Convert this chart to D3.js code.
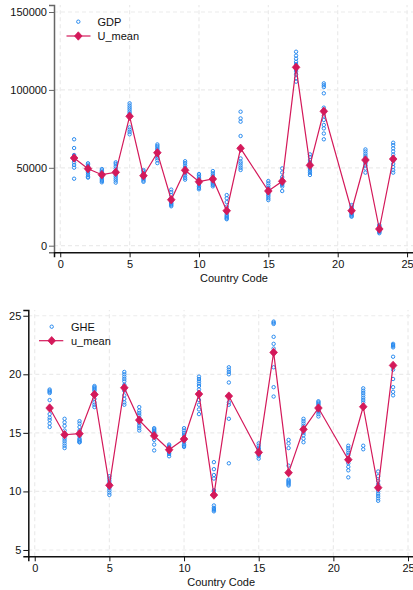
<!DOCTYPE html>
<html><head><meta charset="utf-8">
<script src="https://cdn.jsdelivr.net/npm/d3@7"></script>
<style>
html,body{margin:0;padding:0;background:#fff;}
svg text{font-family:"Liberation Sans",Arial,sans-serif;font-size:11px;fill:#111;}
</style></head>
<body><svg id="c" width="413" height="590"></svg>
<script>
// ---- data ----
const countryCodes = [1,2,3,4,5,6,7,8,9,10,11,12,13,15,16,17,18,19,21,22,23,24];
const gdpValues = [
  [68300,62700,58200,57000,56000,55000,53500,51800,50100,43000],
  [52900,52000,51000,50200,49500,48800,47800,46800,45500,44300,43700],
  [49200,48300,47500,46500,45800,45000,44200,43300,42300,41500,40700],
  [53500,52500,51000,49500,48000,46700,45500,44300,43000,41800,40500],
  [91400,90000,88700,87500,86200,85000,83800,76000,74500,73000,71500],
  [48600,47800,46800,45900,45000,44200,43500,42700,41800,41000],
  [65000,64000,63000,62000,61000,60000,58800,57500,56200,54800,53000],
  [36000,34500,32500,30500,29500,28800,28000,27300,26700,26000,25300],
  [54200,53000,51500,50300,49200,48200,47200,46200,45000,43500,42400],
  [46000,45000,44000,43000,42000,41000,40000,39000,38000,37000,36200],
  [47900,46500,45200,44000,43000,42200,41400,40600,39800,39000,38100],
  [32500,30500,28000,25000,22500,21000,19800,18900,18200,17500,17000],
  [86000,81700,79600,70400,56000,54000,52800,51400,50000,48600],
  [41500,40000,38500,37000,35800,34800,33800,32800,31800,30500,29300],
  [49600,47000,44000,42500,41500,40500,39800,39000,38000,35100],
  [124500,122000,120000,118000,116500,115000,113500,112000,110000,107500,105300],
  [58600,57000,55000,53500,52300,51300,50300,49300,48000,46800,45400],
  [104200,103000,101800,97800,88600,87000,83500,80700,77500,75300,72000,68300],
  [26100,25000,24000,23200,22500,21800,21200,20500,19800,19100,18600],
  [61800,60500,59000,57500,56200,55000,54000,52800,51500,49500,46900],
  [13300,12500,11800,11200,10700,10200,9700,9200,8700,8000],
  [66100,64500,62500,60500,58500,56500,54500,52500,50500,48500,46900]
];
const gdpMean = [56290,49420,45570,47100,83050,44930,59690,29520,48390,41080,42810,22460,
                 62510,35110,41330,114500,51600,86260,22460,55000,10720,55640];
const gheValues = [
  [18.7,18.6,18.5,18.4,17.8,17.2,16.6,16.3,16.1,15.8,15.5],
  [16.2,15.9,15.6,15.2,14.9,14.7,14.5,14.3,14.1,13.9,13.7],
  [16.0,15.8,15.5,15.2,14.9,14.7,14.5,14.4,14.3,14.2,14.2],
  [19.0,18.9,18.8,18.7,18.6,18.4,18.2,17.9,17.6,17.4,17.2],
  [11.3,11.1,10.9,10.7,10.5,10.4,10.3,10.1,9.9,9.7],
  [20.2,20.0,19.8,19.6,19.4,19.1,18.6,18.2,17.9,17.6,17.4],
  [17.2,16.9,16.7,16.5,16.3,16.0,15.8,15.6,15.4,15.2],
  [15.4,15.3,15.2,15.1,15.0,14.9,14.8,14.4,14.0,13.5],
  [14.0,13.9,13.8,13.7,13.6,13.5,13.4,13.3,13.2,13.0],
  [15.4,15.2,15.0,14.8,14.6,14.4,14.2,14.0,13.9,13.8],
  [19.8,19.6,19.4,19.2,19.0,18.7,18.3,17.8,17.4,17.0,16.6],
  [12.5,11.9,11.4,11.1,10.1,10.0,8.8,8.6,8.5,8.4,8.3],
  [20.6,20.4,20.2,20.0,19.3,17.6,17.4,16.2,12.4],
  [14.1,13.9,13.7,13.6,13.4,13.3,13.2,13.1,13.0,12.8],
  [24.5,24.4,24.3,23.2,22.6,22.2,21.9,20.6,18.9,18.1],
  [14.4,14.1,13.7,12.2,11.0,10.9,10.8,10.7,10.6,10.5],
  [16.2,16.0,15.8,15.6,15.4,15.2,15.0,14.8,14.5,14.2],
  [17.7,17.6,17.5,17.4,17.2,17.0,16.9,16.8,16.6,16.4],
  [13.9,13.7,13.5,13.3,13.1,12.8,12.6,12.4,12.1,11.8,11.2],
  [18.8,18.6,18.4,18.2,18.0,17.8,17.6,13.9,13.6],
  [11.7,11.3,10.9,10.6,10.4,10.2,10.0,9.8,9.6,9.4,9.2],
  [22.6,22.5,22.4,22.3,21.5,20.4,19.6,18.9,18.5,18.2]
];
const gheMean = [17.12,14.84,14.93,18.28,10.52,18.85,16.09,14.75,13.56,14.47,18.31,9.69,
                 18.14,13.33,21.87,11.60,15.30,17.12,12.71,17.23,10.32,20.76];
const xTicks = [0,5,10,15,20,25];
const gdpTicks = [0,50000,100000,150000];
const gheTicks = [5,10,15,20,25];
const xTitle = "Country Code";

const BLUE = "#2b8cf0", RED = "#d4195a", GRID = "#ebebeb";
const svg = d3.select("#c");

function panel(cfg){
  const g = svg.append("g");
  const x = d3.scaleLinear().domain(cfg.xdom).range(cfg.xr);
  const y = d3.scaleLinear().domain(cfg.ydom).range(cfg.yr);
  // grid
  g.selectAll(".vg").data(xTicks).enter().append("line")
    .attr("x1",d=>x(d)).attr("x2",d=>x(d)).attr("y1",cfg.yr[0]).attr("y2",cfg.yr[1])
    .attr("stroke",GRID).attr("stroke-width",1.2).attr("stroke-dasharray","4,3");
  g.selectAll(".hg").data(cfg.yticks).enter().append("line")
    .attr("x1",cfg.xr[0]).attr("x2",cfg.xr[1]).attr("y1",d=>y(d)).attr("y2",d=>y(d))
    .attr("stroke",GRID).attr("stroke-width",1.2).attr("stroke-dasharray","4,3");
  // points
  const pts = [];
  countryCodes.forEach((c,i)=>cfg.vals[i].forEach(v=>pts.push([c,v])));
  g.selectAll(".pt").data(pts).enter().append("circle")
    .attr("cx",d=>x(d[0])).attr("cy",d=>y(d[1])).attr("r",1.7)
    .attr("fill","none").attr("stroke",BLUE).attr("stroke-width",1);
  // mean line
  const md = countryCodes.map((c,i)=>[c,cfg.mean[i]]);
  g.append("path").datum(md)
    .attr("d",d3.line().x(d=>x(d[0])).y(d=>y(d[1])))
    .attr("fill","none").attr("stroke",RED).attr("stroke-width",1.2);
  const dia = "M0,-4.2L3.8,0L0,4.2L-3.8,0Z";
  g.selectAll(".mk").data(md).enter().append("path")
    .attr("d",dia).attr("transform",d=>`translate(${x(d[0])},${y(d[1])})`)
    .attr("fill",RED).attr("stroke",RED).attr("stroke-width",0.8);
  // axes
  const ya = g.append("g").attr("transform",`translate(${cfg.xr[0]},0)`)
    .call(d3.axisLeft(y).tickValues(cfg.yticks).tickSize(5).tickPadding(2).tickFormat(d3.format("d")));
  ya.select(".domain").attr("stroke",cfg.yaxisColor).attr("stroke-width",1.5);
  ya.selectAll(".tick line").attr("stroke",cfg.yaxisColor);
  ya.selectAll("text").style("font-family","Liberation Sans, Arial, sans-serif").style("font-size","11px").attr("fill","#111");
  const xa = g.append("g").attr("transform",`translate(0,${cfg.yr[0]})`)
    .call(d3.axisBottom(x).tickValues(xTicks).tickSize(5).tickPadding(3).tickFormat(d3.format("d")));
  xa.select(".domain").attr("stroke","#111").attr("stroke-width",1.5);
  xa.selectAll(".tick line").attr("stroke","#111");
  xa.selectAll("text").style("font-family","Liberation Sans, Arial, sans-serif").style("font-size","11px").attr("fill","#111");
  g.append("text").attr("x",(cfg.xr[0]+cfg.xr[1])/2).attr("y",cfg.titleY)
    .attr("text-anchor","middle").text(xTitle);
  // legend
  const L = cfg.leg;
  g.append("circle").attr("cx",L.mx).attr("cy",L.y1).attr("r",1.7)
    .attr("fill","none").attr("stroke",BLUE).attr("stroke-width",1);
  g.append("text").attr("x",L.tx).attr("y",L.y1+4).text(cfg.names[0]);
  g.append("line").attr("x1",L.l1).attr("x2",L.l2).attr("y1",L.y2).attr("y2",L.y2)
    .attr("stroke",RED).attr("stroke-width",1.2);
  g.append("path").attr("d",dia).attr("transform",`translate(${L.mx},${L.y2})`)
    .attr("fill",RED).attr("stroke",RED).attr("stroke-width",0.8);
  g.append("text").attr("x",L.tx).attr("y",L.y2+4).text(cfg.names[1]);
}

panel({xdom:[-0.45,25.5], xr:[54,414], ydom:[-4236,154493], yr:[252.3,5],
  yticks:gdpTicks, vals:gdpValues, mean:gdpMean, yaxisColor:"#666", titleY:281.5,
  names:["GDP","U_mean"], leg:{mx:78.3,y1:21.7,y2:36,tx:97.5,l1:66.5,l2:90.5}});
panel({xdom:[-0.43,25.4], xr:[28.3,414], ydom:[4.46,25.49], yr:[556.3,310],
  yticks:gheTicks, vals:gheValues, mean:gheMean, yaxisColor:"#111", titleY:586,
  names:["GHE","u_mean"], leg:{mx:51.7,y1:326.7,y2:340.7,tx:71,l1:39,l2:63.3}});
</script></body></html>
